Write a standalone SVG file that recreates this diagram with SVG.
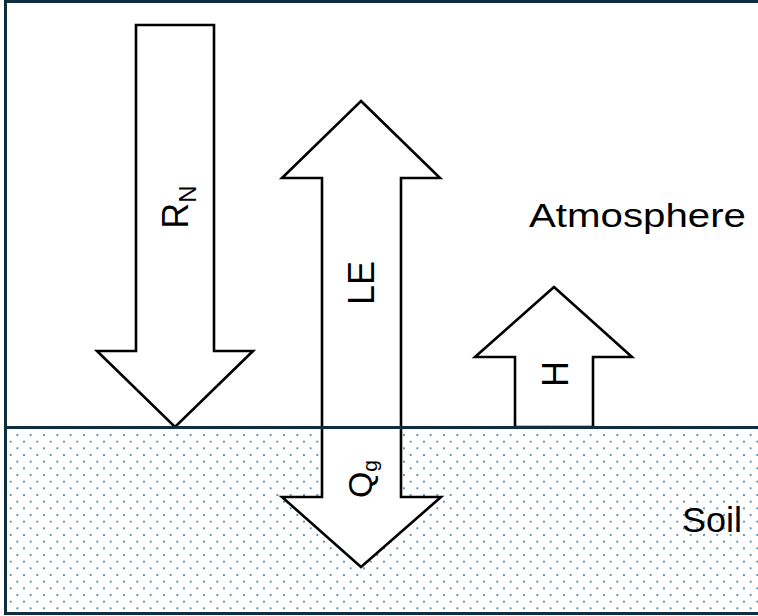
<svg xmlns="http://www.w3.org/2000/svg" width="758" height="616" viewBox="0 0 758 616">
  <style>
    .arrow { fill: #ffffff; stroke: #000000; stroke-width: 2.6; stroke-linejoin: miter; }
    .lbl { font-family: "Liberation Sans", Arial, sans-serif; fill: #000000; }
    .frame { fill: none; stroke: #0f2d40; stroke-width: 3; }
  </style>
  <defs>
    <pattern id="dots" patternUnits="userSpaceOnUse" x="4" y="428.33" width="13.333" height="13.333">
      <circle cx="0" cy="6.667" r="1" fill="#2f77a3"/>
      <circle cx="13.333" cy="6.667" r="1" fill="#2f77a3"/>
      <circle cx="6.667" cy="0" r="1" fill="#2f77a3"/>
      <circle cx="6.667" cy="13.333" r="1" fill="#2f77a3"/>
    </pattern>
  </defs>
  <rect x="0" y="0" width="758" height="616" fill="#ffffff"/>

  <g id="soil">
    <rect x="6" y="428" width="752" height="185" fill="url(#dots)"/>
  </g>

  <g id="arrow-RN">
    <path class="arrow" d="M136,25 H214 V351 H253 L175,427 L97,351 H136 Z"/>
    <text class="lbl" font-size="36" text-anchor="middle" transform="translate(188,207) rotate(-90)">R<tspan font-size="24" dy="8">N</tspan></text>
  </g>

  <g id="arrow-LE-Qg">
    <path class="arrow" d="M361,101 L440,178 H401 V497 H441 L361,567 L282,497 H322 V178 H282 Z"/>
    <text class="lbl" font-size="36" text-anchor="middle" transform="translate(374,283) rotate(-90)">LE</text>
    <text class="lbl" font-size="34" text-anchor="middle" transform="translate(372,479) rotate(-90)">Q<tspan font-size="21" dy="5">g</tspan></text>
  </g>

  <g id="arrow-H">
    <path class="arrow" d="M554,287 L632,357 H593 V427 H515 V357 H475 Z"/>
    <text class="lbl" font-size="36" text-anchor="middle" transform="translate(568,374) rotate(-90)">H</text>
  </g>

  <g id="connectors">
    <line x1="5" y1="427.5" x2="758" y2="427.5" stroke="#0f2d40" stroke-width="3"/>
  </g>

  <g id="frame">
    <path class="frame" d="M758,1.5 H5.5 V613.5 H758"/>
  </g>

  <g id="label-atmosphere">
    <text class="lbl" x="529" y="227" font-size="34" textLength="217" lengthAdjust="spacingAndGlyphs">Atmosphere</text>
  </g>
  <g id="label-soil">
    <text class="lbl" x="682" y="532" font-size="35" textLength="60" lengthAdjust="spacingAndGlyphs">Soil</text>
  </g>
</svg>
